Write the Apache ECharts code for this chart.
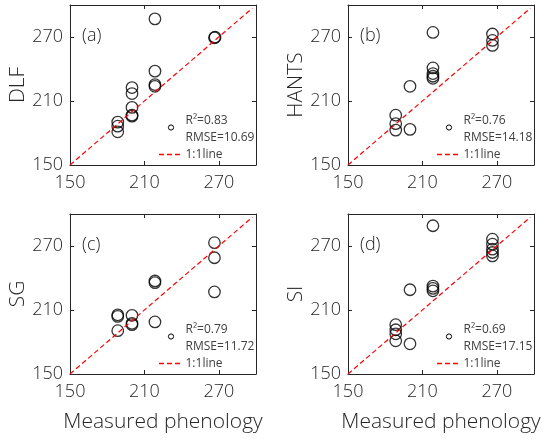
<!DOCTYPE html>
<html><head><meta charset="utf-8">
<script src="https://cdn.jsdelivr.net/npm/echarts/dist/echarts.min.js"></script>
<style>html,body{margin:0;padding:0;background:#fff}#c{width:550px;height:439px}</style>
</head><body><div id="c"></div><script>
// ---- data ----
const modelNames = ['DLF', 'HANTS', 'SG', 'SI'];
const panelTags = ['(a)', '(b)', '(c)', '(d)'];
const r2Values = ['0.83', '0.76', '0.79', '0.69'];
const rmseValues = ['10.69', '14.18', '11.72', '17.15'];
const axisTicks = [150, 210, 270];
const axisMin = 150, axisMax = 300, axisStep = 60;
const oneToOneX = [150, 297];

const measuredA = [218.5, 266.5, 267, 218.5, 218.5, 218.5, 200, 200, 200, 200, 200, 188.5, 188.5, 188.5];
const dlf       = [287, 269.3, 269.8, 238, 225.4, 223.8, 222.6, 217, 204, 196.7, 195.8, 190.2, 186.4, 181.1];

const measuredB = [218.5, 266.5, 266.5, 266.5, 218.5, 218.5, 218.5, 218.5, 200, 188.5, 188.5, 188.5, 200];
const hants     = [274.3, 272.8, 266.8, 262.1, 241, 235.7, 233.2, 231.3, 223.8, 196.7, 188.7, 182.7, 183.4];

const measuredC = [266.5, 266.5, 266.5, 218.5, 218.5, 218.5, 200, 200, 200, 188.5, 188.5, 188.5];
const sg        = [273.1, 259, 226.9, 237.2, 235.6, 198.8, 205, 197.5, 196.2, 205.5, 204, 190.6];

const measuredD = [218.5, 266.5, 266.5, 266.5, 266.5, 266.5, 218.5, 218.5, 218.5, 200, 188.5, 188.5, 188.5, 188.5, 200];
const si        = [289, 276.4, 271.7, 267, 263.9, 260.7, 232.4, 230.2, 228, 229, 196.2, 191.5, 187.7, 181.1, 178.3];

const panelX = [measuredA, measuredB, measuredC, measuredD];
const panelY = [dlf, hants, sg, si];

// ---- layout ----
const grids = [
  {left: 70, top: 5, width: 186, height: 160},
  {left: 348, top: 5, width: 186, height: 160},
  {left: 70, top: 214, width: 186, height: 160},
  {left: 348, top: 214, width: 186, height: 160}
];
const FONT = '"Open Sans", "DejaVu Sans", sans-serif';
const INK = '#262626';

const option = {
  animation: false,
  backgroundColor: '#fff',
  grid: [], xAxis: [], yAxis: [], series: [], graphic: []
};

grids.forEach((g, k) => {
  option.grid.push(Object.assign({containLabel: false, outerBoundsMode: 'none'}, g));
  const fmt = v => axisTicks.indexOf(v) >= 0 ? String(v) : '';
  const base = {
    type: 'value', min: axisMin, max: axisMax, interval: axisStep, gridIndex: k,
    axisLine: {show: true, lineStyle: {color: INK, width: 1}},
    axisTick: {show: true, inside: true, length: 4, lineStyle: {color: INK}},
    splitLine: {show: false},
    axisLabel: {show: true, fontFamily: FONT, fontSize: 18, fontWeight: 300, color: INK, showMaxLabel: false}
  };
  const xb = JSON.parse(JSON.stringify(base));
  xb.axisLabel.formatter = fmt;
  xb.position = 'bottom';
  xb.axisLabel.margin = 9;
  if (k >= 2) {
    xb.name = 'Measured phenology';
    xb.nameLocation = 'middle';
    xb.nameGap = 38;
    xb.nameTextStyle = {fontFamily: FONT, fontSize: 21, fontWeight: 300, color: INK};
  }
  const xt = JSON.parse(JSON.stringify(base));
  xt.position = 'top';
  xt.axisLabel = {show: false};
  const yl = JSON.parse(JSON.stringify(base));
  yl.axisLabel.formatter = fmt;
  yl.position = 'left';
  yl.axisLabel.margin = 7;
  yl.name = modelNames[k];
  yl.nameLocation = 'middle';
  yl.nameGap = 41;
  yl.nameTextStyle = {fontFamily: FONT, fontSize: 21, fontWeight: 300, color: INK};
  const yr = JSON.parse(JSON.stringify(base));
  yr.position = 'right';
  yr.axisLabel = {show: false};
  option.xAxis.push(xb, xt);
  option.yAxis.push(yl, yr);

  option.series.push({
    type: 'line', xAxisIndex: 2 * k, yAxisIndex: 2 * k,
    data: oneToOneX.map(v => [v, v]), symbol: 'none', silent: true,
    lineStyle: {color: '#ff0000', width: 1.2, type: [5, 3]}
  });
  option.series.push({
    type: 'scatter', xAxisIndex: 2 * k, yAxisIndex: 2 * k,
    data: panelX[k].map((x, i) => [x, panelY[k][i]]),
    symbol: 'circle', symbolSize: 11.5, silent: true,
    itemStyle: {color: 'rgba(0,0,0,0)', borderColor: '#000', borderWidth: 1.3}
  });

  const L = g.left, T = g.top;
  option.graphic.push(
    {type: 'text', x: L + 12, y: T + 31, style: {text: panelTags[k], fontFamily: FONT, fontSize: 18, fontWeight: 300, fill: INK, verticalAlign: 'middle', align: 'left'}},
    {type: 'circle', shape: {cx: L + 101, cy: T + 122.5, r: 2.6}, style: {fill: 'none', stroke: '#000', lineWidth: 1}},
    {type: 'text', x: L + 115.5, y: T + 116, style: {text: 'R²=' + r2Values[k], fontFamily: FONT, fontSize: 12, fill: '#404040', verticalAlign: 'middle', align: 'left'}},
    {type: 'text', x: L + 115.5, y: T + 132.5, style: {text: 'RMSE=' + rmseValues[k], fontFamily: FONT, fontSize: 12, fill: '#404040', verticalAlign: 'middle', align: 'left'}},
    {type: 'line', shape: {x1: L + 89, y1: T + 149.5, x2: L + 113, y2: T + 149.5}, style: {stroke: '#ff0000', lineWidth: 1.3, lineDash: [5, 3]}},
    {type: 'text', x: L + 115.5, y: T + 149.5, style: {text: '1:1line', fontFamily: FONT, fontSize: 12, fill: '#404040', verticalAlign: 'middle', align: 'left'}}
  );
});

const chart = echarts.init(document.getElementById('c'), null, {renderer: 'canvas'});
chart.setOption(option);
</script></body></html>
